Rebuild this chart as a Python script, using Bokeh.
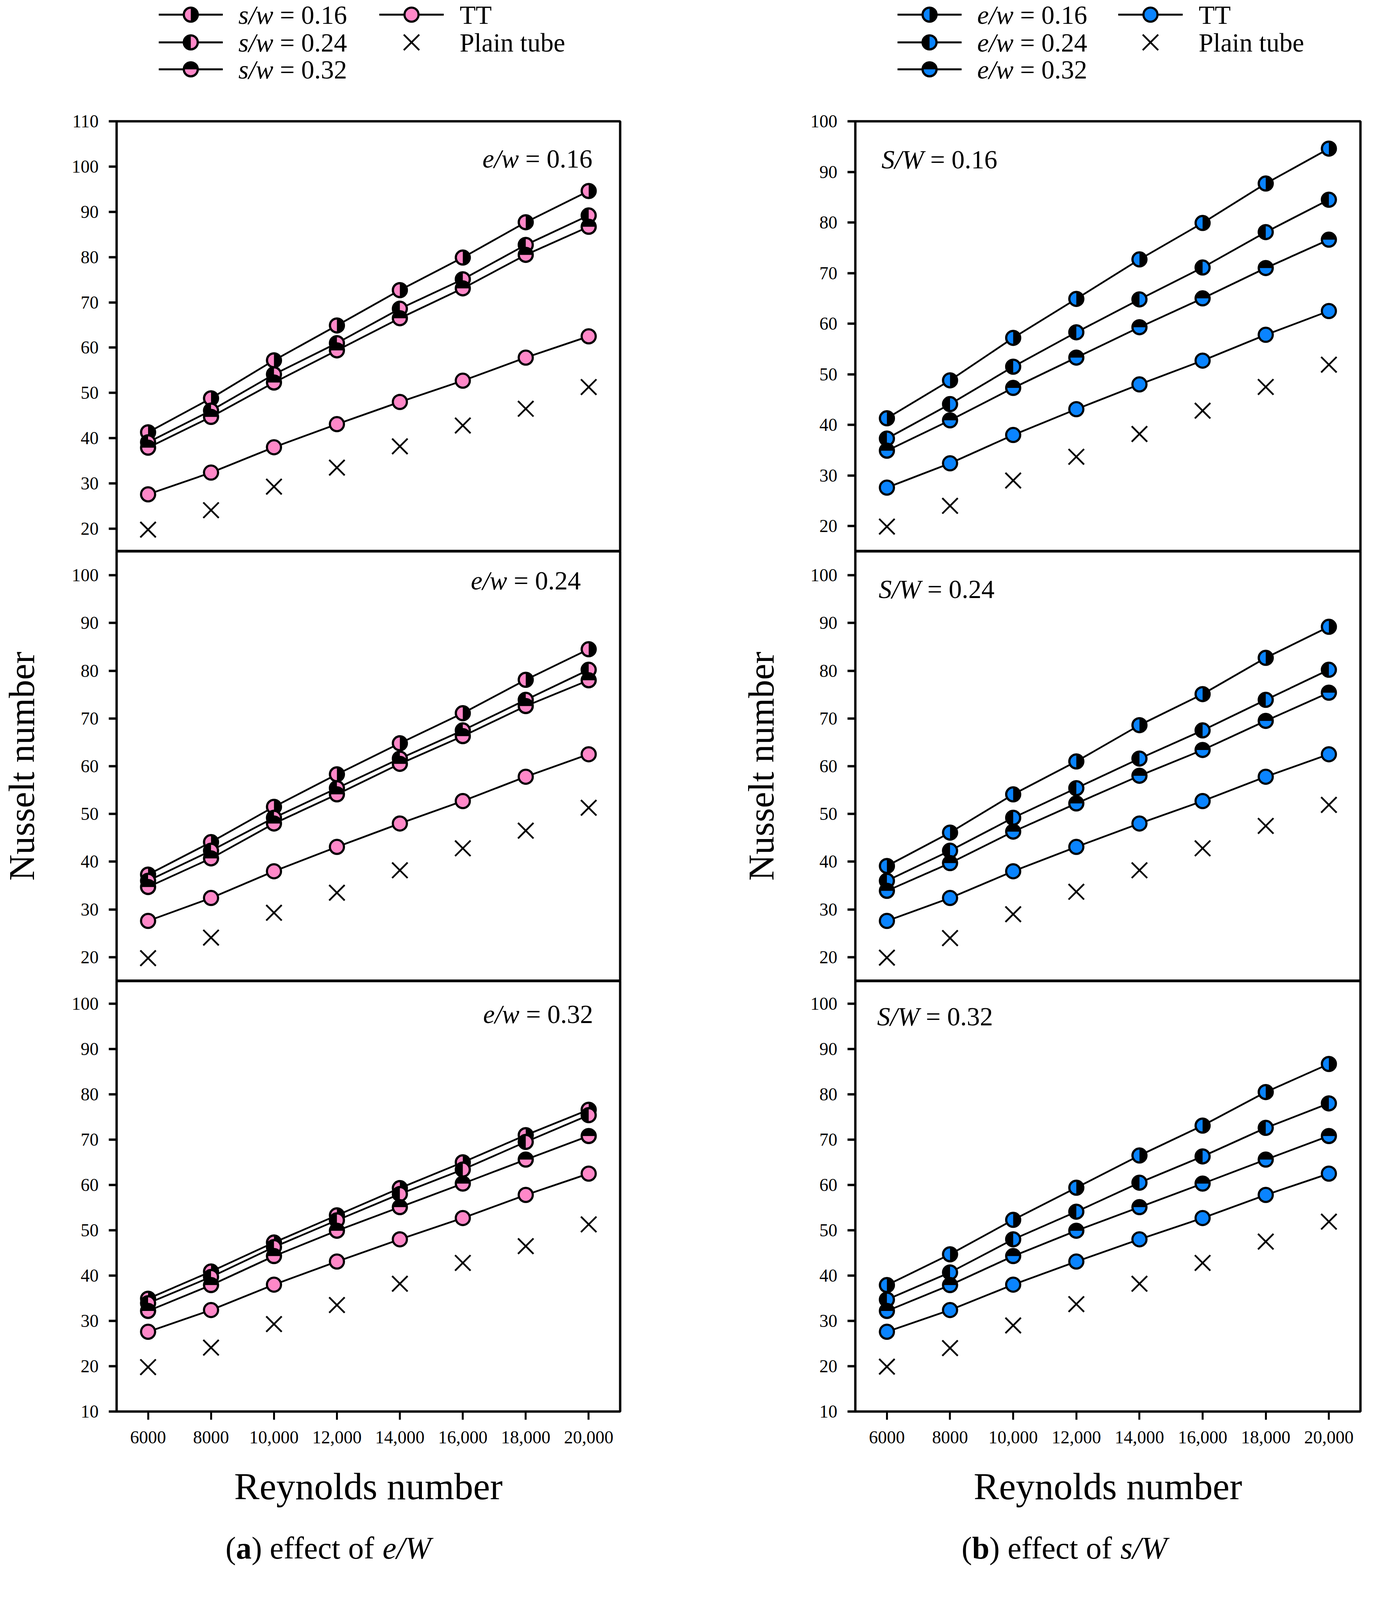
from math import pi

from bokeh.plotting import figure
from bokeh.layouts import row, column
from bokeh.models import Range1d, FixedTicker, Label
from bokeh.embed import file_html
from bokeh.resources import INLINE

reynolds = [6000, 8000, 10000, 12000, 14000, 16000, 18000, 20000]
reynolds_labels = ["6000", "8000", "10,000", "12,000", "14,000", "16,000", "18,000", "20,000"]
ratio_labels = ["0.16", "0.24", "0.32"]

# Nusselt number for each e/w (first) and s/w (second) pair
nu_e16_s16 = [41.3, 48.8, 57.2, 64.9, 72.7, 79.9, 87.7, 94.6]
nu_e16_s24 = [39.1, 46.1, 54.1, 61.0, 68.6, 75.1, 82.7, 89.2]
nu_e16_s32 = [37.9, 44.7, 52.3, 59.4, 66.5, 73.1, 80.5, 86.7]
nu_e24_s16 = [37.3, 44.1, 51.5, 58.3, 64.8, 71.1, 78.1, 84.5]
nu_e24_s24 = [36.0, 42.3, 49.2, 55.4, 61.6, 67.5, 73.9, 80.2]
nu_e24_s32 = [34.7, 40.7, 48.0, 54.1, 60.5, 66.3, 72.6, 78.0]
nu_e32_s16 = [34.9, 40.9, 47.3, 53.3, 59.3, 65.0, 71.0, 76.6]
nu_e32_s24 = [33.9, 39.7, 46.3, 52.2, 58.0, 63.4, 69.5, 75.4]
nu_e32_s32 = [32.2, 37.9, 44.3, 49.9, 55.1, 60.3, 65.6, 70.8]
nu_tt = [27.6, 32.4, 38.0, 43.1, 48.0, 52.7, 57.8, 62.5]
nu_plain_a = [19.8, 24.1, 29.3, 33.5, 38.2, 42.8, 46.5, 51.3]
nu_plain_b = [19.9, 24.0, 29.0, 33.7, 38.2, 42.8, 47.5, 51.9]

FONT = "Liberation Serif"
PINK = "#FF88C8"
BLUE = "#0A84FF"
KINDS = ["left", "right", "bottom"]
HALF = {"left": (pi / 2, 3 * pi / 2), "right": (-pi / 2, pi / 2), "bottom": (pi, 2 * pi)}

# the photo keeps only about 4000 px of height, so the layout is squeezed vertically
FS = 0.93  # font / marker scale

TICK_PX = round(50 * FS)
TAG_PX = round(72 * FS)
CAP_PX = round(86 * FS)
MARK = round(39 * FS)
XMARK = round(60 * FS)

# column geometry: min_border_left, frame width, min_border_right
COLS = {"a": (297, 1290, 205), "b": (397, 1293, 22)}
# panel geometry: height, min_border_top, min_border_bottom
ROWS = {"top": (40 + 1101, 40, 0), "mid": (1100, 0, 0), "bot": (1102 + 262, 0, 262)}
LEGEND_H = 270
CAPTION_H = 150


def half_marker(p, x, y, color, kind):
    p.scatter(x, y, size=MARK, fill_color="black", line_color="black", line_width=5.5)
    a0, a1 = HALF[kind]
    p.wedge(x, y, radius=MARK / 2 - 3, radius_units="screen", start_angle=a0, end_angle=a1,
            fill_color=color, line_color=None)


def add_label(p, x, y, text, size, style="normal", align="left", baseline="alphabetic", dx=0):
    p.add_layout(Label(x=x, y=y, text=text, text_font=FONT, text_font_size=f"{size}px",
                       text_font_style=style, text_align=align, text_baseline=baseline,
                       text_color="black", x_offset=dx))


def mixed(p, x, y, italic, roman, size, align, baseline="alphabetic"):
    # italic symbol followed by upright "= value"
    em = {"e/w": 1.389, "s/w": 1.334, "S/W": 1.611}[italic]
    if align == "right":
        add_label(p, x, y, roman, size, align="right", baseline=baseline)
        add_label(p, x, y, italic, size, style="italic", align="right", baseline=baseline,
                  dx=-(2.564 + 0.25) * size)
    else:
        add_label(p, x, y, italic, size, style="italic", baseline=baseline)
        add_label(p, x, y, roman, size, baseline=baseline, dx=(em + 0.25) * size)


def base_fig(col, h, bt, bb, xr, yr, xloc=None, yloc="left"):
    left, fw, right = COLS[col]
    p = figure(width=left + fw + right, height=h, title=None, x_range=xr, y_range=yr,
               x_axis_location=xloc, y_axis_location=yloc,
               output_backend="svg", toolbar_location=None,
               min_border_left=left, min_border_right=right,
               min_border_top=bt, min_border_bottom=bb)
    p.grid.visible = False
    p.background_fill_color = "white"
    p.border_fill_color = "white"
    return p


def style_axis(ax, tick_out, label_px):
    ax.axis_line_color = None
    ax.major_tick_out = tick_out
    ax.major_tick_in = 0
    ax.major_tick_line_color = "black"
    ax.minor_tick_out = 0
    ax.minor_tick_in = 0
    ax.major_label_text_font = FONT
    ax.major_label_text_font_size = f"{TICK_PX}px"
    ax.major_label_text_color = "black"
    ax.axis_label_text_font = FONT
    ax.axis_label_text_font_style = "normal"
    ax.axis_label_text_font_size = f"{label_px}px"
    ax.axis_label_text_color = "black"


def make_panel(col, pos, curves, plain, color, yr, yticks, tag_sym, tag_val, tag_xy, align):
    h, bt, bb = ROWS[pos]
    p = base_fig(col, h, bt, bb, Range1d(5000, 21000), Range1d(*yr),
                 xloc="below" if pos == "bot" else None)
    p.outline_line_color = "black"
    p.outline_line_width = 6

    ax = p.yaxis[0]
    ax.ticker = FixedTicker(ticks=yticks)
    style_axis(ax, 20, round(100 * FS))
    ax.major_tick_line_width = 6
    ax.major_label_standoff = 26
    if pos == "mid":
        ax.axis_label = "Nusselt number"
        ax.axis_label_standoff = 74 if col == "a" else 72

    if pos == "bot":
        xa = p.xaxis[0]
        xa.ticker = FixedTicker(ticks=reynolds)
        xa.major_label_overrides = dict(zip(reynolds, reynolds_labels))
        style_axis(xa, 21, round(104 * FS))
        xa.major_tick_line_width = 5
        xa.major_label_standoff = 29
        xa.axis_label = "Reynolds number"
        xa.axis_label_standoff = 54

    for ys in curves + [nu_tt]:
        p.line(reynolds, ys, line_color="black", line_width=4.5)
    p.scatter(reynolds, plain, marker="x", size=XMARK, line_color="black", line_width=4.5)
    for ys, kind in zip(curves, KINDS):
        half_marker(p, reynolds, ys, color, kind)
    p.scatter(reynolds, nu_tt, size=MARK, fill_color=color, line_color="black", line_width=5.5)

    mixed(p, tag_xy[0], tag_xy[1], tag_sym, "= " + tag_val, TAG_PX, align)
    return p


def make_legend(col, color, sym, xs):
    H = LEGEND_H
    fw = COLS[col][1]
    p = base_fig(col, H, 0, 0, Range1d(0, fw), Range1d(0, H), yloc=None)
    p.outline_line_color = None
    l0, l1, tx, m0, m1, tx2 = xs
    rows = [H - 37, H - 108, H - 177]
    for ratio, kind, y in zip(ratio_labels, KINDS, rows):
        p.segment(x0=[l0], y0=[y], x1=[l1], y1=[y], line_color="black", line_width=5)
        half_marker(p, [(l0 + l1) / 2], [y], color, kind)
        mixed(p, tx, y, sym, "= " + ratio, TAG_PX, "left", baseline="middle")
    p.segment(x0=[m0], y0=[rows[0]], x1=[m1], y1=[rows[0]], line_color="black", line_width=5)
    p.scatter([(m0 + m1) / 2], [rows[0]], size=MARK, fill_color=color, line_color="black", line_width=5.5)
    p.scatter([(m0 + m1) / 2], [rows[1]], marker="x", size=XMARK, line_color="black", line_width=4.5)
    for txt, y in zip(["TT", "Plain tube"], rows[:2]):
        add_label(p, tx2, y, txt, TAG_PX, baseline="middle")
    return p


def make_caption(col, x0, letter, sym):
    H = CAPTION_H
    fw = COLS[col][1]
    p = base_fig(col, H, 0, 0, Range1d(0, fw), Range1d(0, H), yloc=None)
    p.outline_line_color = None
    y = H - 87
    wl = {"a": 0.5, "b": 0.556}[letter]
    parts = [("(", "normal", 0.0), (letter, "bold", 0.333),
             (") effect of", "normal", 0.333 + wl), (sym, "italic", 0.333 + wl + 3.942 + 0.25)]
    for txt, style, off in parts:
        add_label(p, x0, y, txt, CAP_PX, style=style, dx=off * CAP_PX)
    return p


left_sets = [[nu_e16_s16, nu_e16_s24, nu_e16_s32],
             [nu_e24_s16, nu_e24_s24, nu_e24_s32],
             [nu_e32_s16, nu_e32_s24, nu_e32_s32]]
right_sets = [[nu_e16_s16, nu_e24_s16, nu_e32_s16],
              [nu_e16_s24, nu_e24_s24, nu_e32_s24],
              [nu_e16_s32, nu_e24_s32, nu_e32_s32]]

ticks_20_110 = [20, 30, 40, 50, 60, 70, 80, 90, 100, 110]
ticks_20_100 = [20, 30, 40, 50, 60, 70, 80, 90, 100]
ticks_10_100 = [10, 20, 30, 40, 50, 60, 70, 80, 90, 100]

a_ranges = [(15, 110), (15, 105), (10, 105)]
b_ranges = [(15, 100), (15, 105), (10, 105)]
a_ticks = [ticks_20_110, ticks_20_100, ticks_10_100]
b_ticks = [ticks_20_100, ticks_20_100, ticks_10_100]
a_tags = [(20120, 101.8), (19750, 98.9), (20140, 97.7)]
b_tags = [(5830, 92.5), (5740, 97.1), (5690, 97.2)]

positions = ["top", "mid", "bot"]
legend_x = (108, 272, 312, 673, 838, 879)

left_col = [make_legend("a", PINK, "s/w", legend_x)]
right_col = [make_legend("b", BLUE, "e/w", legend_x)]
for i, pos in enumerate(positions):
    left_col.append(make_panel("a", pos, left_sets[i], nu_plain_a, PINK, a_ranges[i], a_ticks[i],
                               "e/w", ratio_labels[i], a_tags[i], "right"))
    right_col.append(make_panel("b", pos, right_sets[i], nu_plain_b, BLUE, b_ranges[i], b_ticks[i],
                                "S/W", ratio_labels[i], b_tags[i], "left"))
left_col.append(make_caption("a", 279, "a", "e/W"))
right_col.append(make_caption("b", 272, "b", "s/W"))

page = row(column(*left_col, spacing=0), column(*right_col, spacing=0), spacing=0)

open("out.html", "w").write(file_html(page, INLINE))
